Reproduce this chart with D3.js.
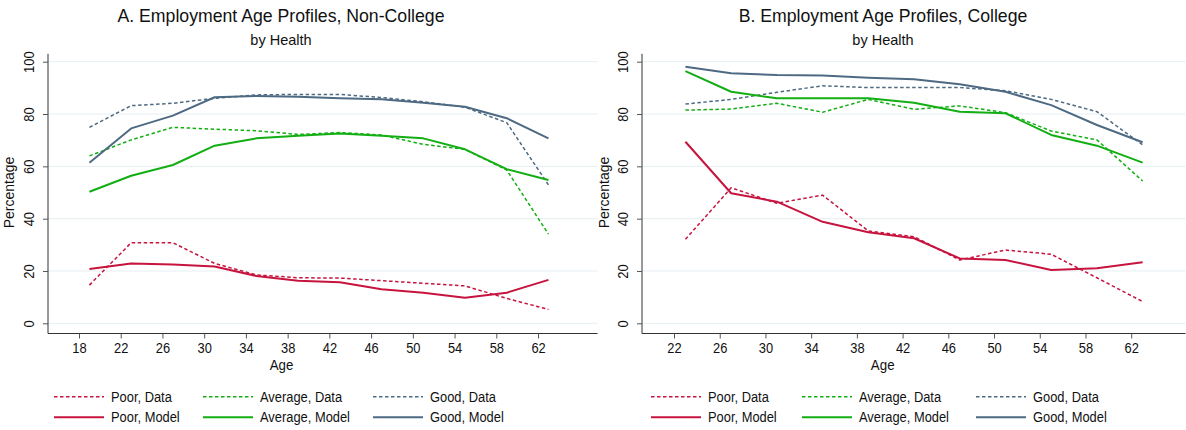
<!DOCTYPE html>
<html><head><meta charset="utf-8">
<script src="https://cdn.jsdelivr.net/npm/d3@7"></script>
<style>body{margin:0;background:#fff}svg{display:block;font-family:"Liberation Sans",Arial,sans-serif}</style>
</head><body><svg id="c" width="1186" height="430"></svg>
<script>
// ---- data ----
const agesA = [19,23,27,31,35,39,43,47,51,55,59,63];
const poorDataA   = [14.6,30.8,30.8,22.9,18.5,17.4,17.3,16.3,15.3,14.3,9.5,5.3];
const poorModelA  = [20.8,22.9,22.5,21.7,18.1,16.3,15.7,13.0,11.7,9.8,11.7,16.6];
const avgDataA    = [64.0,70.1,74.9,74.2,73.6,72.2,72.9,72.0,68.4,66.5,58.6,34.1];
const avgModelA   = [50.3,56.4,60.5,67.9,70.7,71.7,72.6,71.7,70.7,66.5,58.9,54.8];
const goodDataA   = [74.9,83.2,84.1,86.0,87.3,87.5,87.5,86.3,84.7,82.6,76.7,52.9];
const goodModelA  = [61.4,74.5,79.4,86.4,86.9,86.6,86.0,85.6,84.3,82.8,78.4,70.7];

const agesB = [23,27,31,35,39,43,47,51,55,59,63];
const poorDataB   = [32.1,51.8,45.9,49.0,35.3,33.1,24.2,28.0,26.4,17.4,8.3];
const poorModelB  = [69.4,49.7,46.5,38.8,34.8,32.5,24.8,24.2,20.4,21.0,23.3];
const avgDataB    = [81.5,81.9,84.1,80.7,85.6,81.8,83.1,80.5,73.5,70.1,54.4];
const avgModelB   = [96.4,88.5,86.0,86.0,86.0,84.3,80.9,80.3,72.0,67.9,61.4];
const goodDataB   = [83.8,85.6,88.3,90.8,90.1,90.1,90.1,88.9,85.6,80.9,68.2];
const goodModelB  = [98.1,95.6,94.9,94.7,93.9,93.3,91.4,88.5,83.4,75.8,69.2];

const xTicksA = [18,22,26,30,34,38,42,46,50,54,58,62];
const xTicksB = [22,26,30,34,38,42,46,50,54,58,62];
const yTicks = [0,20,40,60,80,100];
const legendLabels = ["Poor, Data","Average, Data","Good, Data","Poor, Model","Average, Model","Good, Model"];

const colors = {poor:"#c6143e", avg:"#13ae13", good:"#4e6a83"};

const svg = d3.select("#c");

function squeeze(sel, r){
  sel.each(function(){
    const len = this.getComputedTextLength();
    d3.select(this).attr("textLength", len*r).attr("lengthAdjust","spacingAndGlyphs");
  });
}

function panel(opt){
  const x = d3.scaleLinear().domain(opt.xdom).range(opt.xr);
  const y = d3.scaleLinear().domain([0,100]).range([323.3,61.7]);
  const g = svg.append("g");
  // grid
  g.selectAll(".grid").data(yTicks).enter().append("line")
    .attr("x1",opt.xr[0]).attr("x2",opt.xr[1])
    .attr("y1",d=>y(d)).attr("y2",d=>y(d))
    .attr("stroke","#e6eff3").attr("stroke-width",1);
  // y axis
  const ya = g.append("g").attr("transform",`translate(${opt.xr[0]},0)`)
    .call(d3.axisLeft(y).tickValues(yTicks).tickSize(5).tickPadding(12));
  ya.select(".domain").attr("d",`M0,${y(103)}V333.5`).attr("stroke","#333");
  ya.selectAll(".tick line").attr("stroke","#555");
  ya.selectAll(".tick text").attr("transform","rotate(-90)").attr("x",0).attr("y",-18.5)
    .attr("dy","0.35em").attr("text-anchor","middle").style("font-size","14px").attr("fill","#111")
    .call(squeeze,0.92);
  // x axis
  const xa = g.append("g").attr("transform","translate(0,333.5)")
    .call(d3.axisBottom(x).tickValues(opt.xticks).tickSize(5).tickPadding(5));
  xa.select(".domain").attr("d",`M${opt.xr[0]},0H${opt.xr[1]}`).attr("stroke","#333");
  xa.selectAll(".tick line").attr("stroke","#555");
  xa.selectAll(".tick text").style("font-size","14px").attr("fill","#111").call(squeeze,0.92);
  // labels
  g.append("text").attr("x",opt.ageX).attr("y",370).attr("text-anchor","middle")
    .style("font-size","14px").attr("fill","#111").text("Age").call(squeeze,0.95);
  g.append("text").attr("transform",`translate(${opt.pctX},192.5) rotate(-90)`)
    .attr("text-anchor","middle").style("font-size","14px").attr("fill","#111").text("Percentage");
  g.append("text").attr("x",opt.titleX).attr("y",22).attr("text-anchor","middle")
    .style("font-size","18.5px").attr("fill","#111").text(opt.title).call(squeeze,0.955);
  g.append("text").attr("x",opt.titleX).attr("y",45).attr("text-anchor","middle")
    .style("font-size","14.5px").attr("fill","#111").text("by Health");
  // lines
  const line = d3.line().x(d=>x(d[0])).y(d=>y(d[1]));
  opt.series.forEach(s=>{
    g.append("path").datum(opt.ages.map((a,i)=>[a,s.v[i]]))
      .attr("d",line).attr("fill","none").attr("stroke",s.c)
      .attr("stroke-width",s.dash?1.5:2).attr("stroke-dasharray",s.dash?"3.5,2.5":null)
      .attr("stroke-linejoin","round");
  });
  // legend
  const lg = g.append("g");
  const cols = ["poor","avg","good"];
  legendLabels.forEach((lab,i)=>{
    const col = i%3, row = Math.floor(i/3);
    const ly = row===0?396.7:417.3;
    const lx = opt.legX[col];
    lg.append("line").attr("x1",lx).attr("x2",lx+50).attr("y1",ly).attr("y2",ly)
      .attr("stroke",colors[cols[col]]).attr("stroke-width",row===0?1.5:2)
      .attr("stroke-dasharray",row===0?"3.5,2.5":null);
    lg.append("text").attr("x",lx+57).attr("y",ly).attr("dy","0.35em")
      .style("font-size","14px").attr("fill","#111").text(lab).call(squeeze,0.92);
  });
}

panel({xdom:[15.03,67.7], xr:[48,597.5], xticks:xTicksA, ages:agesA, ageX:281.5, pctX:14, titleX:281,
  title:"A. Employment Age Profiles, Non-College", legX:[54,203,373],
  series:[
    {v:poorDataA,c:colors.poor,dash:true},{v:avgDataA,c:colors.avg,dash:true},{v:goodDataA,c:colors.good,dash:true},
    {v:poorModelA,c:colors.poor},{v:avgModelA,c:colors.avg},{v:goodModelA,c:colors.good}]});

panel({xdom:[19.2,66.75], xr:[642,1185.5], xticks:xTicksB, ages:agesB, ageX:882.7, pctX:608.5, titleX:883,
  title:"B. Employment Age Profiles, College", legX:[651,802,976],
  series:[
    {v:poorDataB,c:colors.poor,dash:true},{v:avgDataB,c:colors.avg,dash:true},{v:goodDataB,c:colors.good,dash:true},
    {v:poorModelB,c:colors.poor},{v:avgModelB,c:colors.avg},{v:goodModelB,c:colors.good}]});
</script></body></html>
